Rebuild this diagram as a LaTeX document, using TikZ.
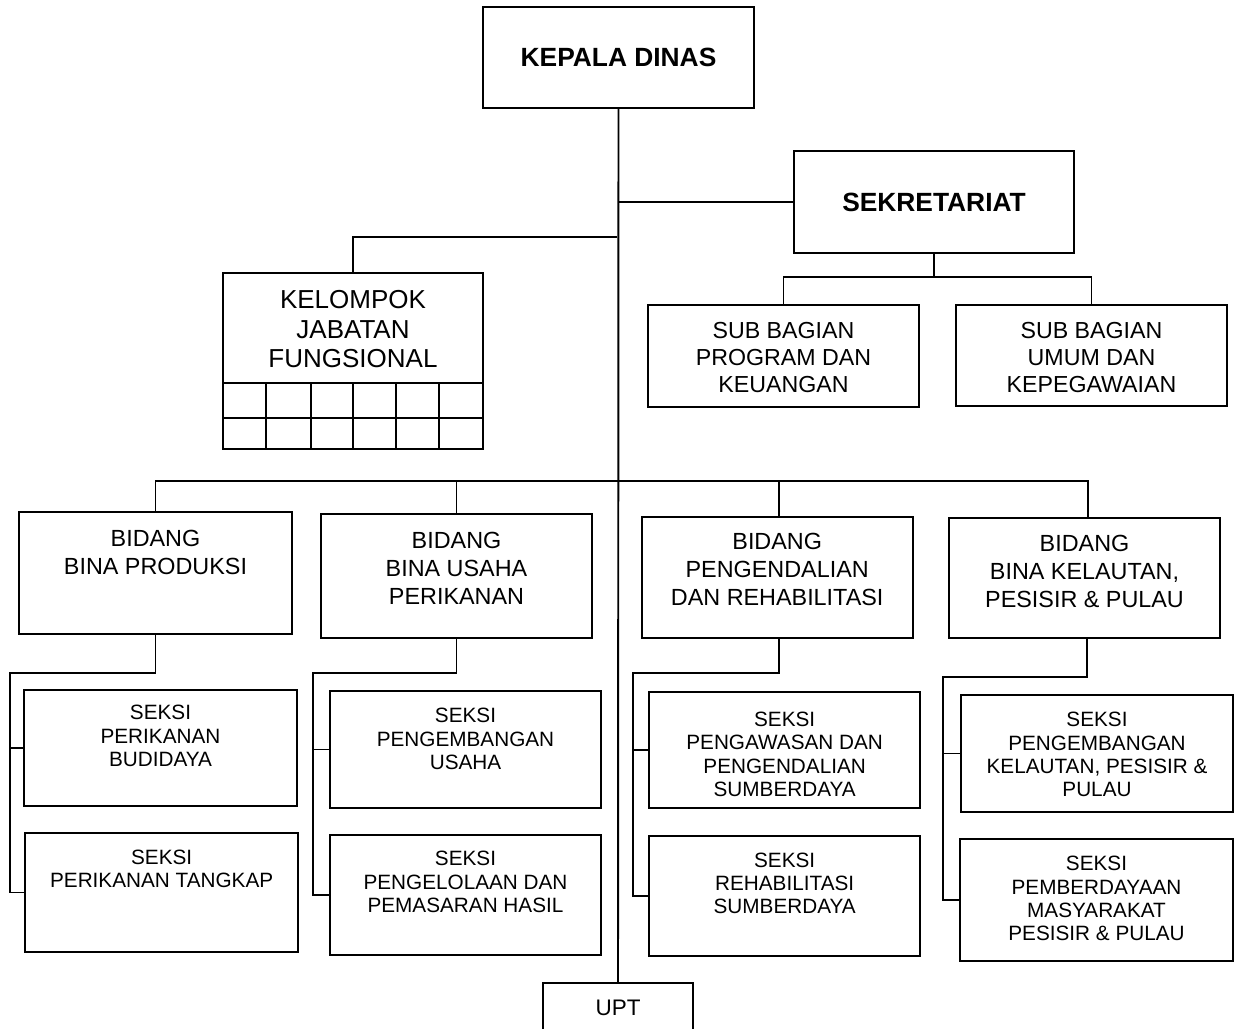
\documentclass[tikz,border=0pt]{standalone}
\usepackage{fontspec}
\setmainfont{Liberation Sans}
\begin{document}
\begin{tikzpicture}[x=0.02cm,y=-0.02cm,
  obx/.style={draw,line width=1.1pt,inner sep=0pt,outer sep=0pt},
  link/.style={line width=1.1pt},
  txt/.style={inner sep=0pt,anchor=north,align=center},
  fhead/.style={font=\bfseries\fontsize{15}{18}\selectfont},
  fbig/.style={font=\fontsize{14.8}{17}\selectfont},
  fsub/.style={font=\fontsize{13.2}{15.4}\selectfont},
  fbid/.style={font=\fontsize{13.3}{15.9}\selectfont},
  fsek/.style={font=\fontsize{11.8}{13.2}\selectfont},
  fupt/.style={font=\fontsize{12.8}{15}\selectfont}]
% box: name, x1, y1, x2, y2
\newcommand\obox[5]{\node[obx,minimum width={(#4-#2)*0.02cm},minimum height={(#5-#3)*0.02cm}] (#1) at ({(#2+#4)/2},{(#3+#5)/2}) {};}
% label: name, box, offset below the box top, style, text
\newcommand\olbl[5]{\node[txt,#4] (#1) at ([yshift={-(#3)*0.02cm}]#2.north) {#5};}

\clip (0,0) rectangle (1237,1028);

% top level
\obox{kd}{483}{7}{754}{108}
\olbl{tkd}{kd}{41}{fhead}{KEPALA DINAS}
\obox{sek}{794}{151}{1074}{253}
\olbl{tsek}{sek}{42}{fhead}{SEKRETARIAT}
\obox{sb1}{648}{305}{919}{407}
\olbl{tsb1}{sb1}{17}{fsub}{SUB BAGIAN\\PROGRAM DAN\\KEUANGAN}
\obox{sb2}{956}{305}{1227}{406}
\olbl{tsb2}{sb2}{17}{fsub}{SUB BAGIAN\\UMUM DAN\\KEPEGAWAIAN}

% functional group with its grid
\obox{kjf}{222.7}{272.7}{483.3}{449.3}
\olbl{tkjf}{kjf}{17}{fbig}{KELOMPOK\\JABATAN\\FUNGSIONAL}
\draw[link] (222.7,383.3) -- (483.3,383.3) (222.7,417.7) -- (483.3,417.7);
\foreach \gx in {266,310.7,352.7,396,438.7}
  \draw[link] (\gx,383.3) -- (\gx,449.3);

% fields
\obox{b1}{19.3}{512.3}{291.7}{634.3}
\olbl{tb1}{b1}{18}{fbid}{BIDANG\\BINA PRODUKSI}
\obox{b2}{321}{514}{592}{638}
\olbl{tb2}{b2}{18}{fbid}{BIDANG\\BINA USAHA\\PERIKANAN}
\obox{b3}{641.7}{516.7}{912.7}{638.3}
\olbl{tb3}{b3}{16.5}{fbid}{BIDANG\\PENGENDALIAN\\DAN REHABILITASI}
\obox{b4}{949}{518}{1220}{638}
\olbl{tb4}{b4}{17}{fbid}{BIDANG\\BINA KELAUTAN,\\PESISIR \& PULAU}

% sections
\obox{s11}{24.3}{690}{296.7}{805.7}
\olbl{ts11}{s11}{15}{fsek}{SEKSI\\PERIKANAN\\BUDIDAYA}
\obox{s12}{25.3}{833.3}{298}{951.7}
\olbl{ts12}{s12}{16}{fsek}{SEKSI\\PERIKANAN TANGKAP}
\obox{s21}{330}{691}{601}{808}
\olbl{ts21}{s21}{17}{fsek}{SEKSI\\PENGEMBANGAN\\USAHA}
\obox{s22}{330}{835}{601}{955}
\olbl{ts22}{s22}{16}{fsek}{SEKSI\\PENGELOLAAN DAN\\PEMASARAN HASIL}
\obox{s31}{649.3}{692.3}{920}{808.3}
\olbl{ts31}{s31}{19.5}{fsek}{SEKSI\\PENGAWASAN DAN\\PENGENDALIAN\\SUMBERDAYA}
\obox{s32}{649.3}{835.7}{920}{956}
\olbl{ts32}{s32}{17}{fsek}{SEKSI\\REHABILITASI\\SUMBERDAYA}
\obox{s41}{961}{695}{1233}{812}
\olbl{ts41}{s41}{17}{fsek}{SEKSI\\PENGEMBANGAN\\KELAUTAN, PESISIR \&\\PULAU}
\obox{s42}{960}{839}{1233}{961}
\olbl{ts42}{s42}{17}{fsek}{SEKSI\\PEMBERDAYAAN\\MASYARAKAT\\PESISIR \& PULAU}

% technical unit
\obox{upt}{543}{983}{693}{1045}
\olbl{tupt}{upt}{17}{fupt}{UPT}

% main spine
\draw[link] (kd.south) -- (upt.north);

% secretariat
\draw[link] (sek.west) -- (sek.west -| kd.south);
\coordinate (sbus) at (0,277);
\draw[link] (sek.south) -- (sek.south |- sbus);
\draw[link] (sb1.north) -- (sb1.north |- sbus) -- (sb2.north |- sbus) -- (sb2.north);

% functional group
\coordinate (kend) at (617,236.7);
\draw[link] (kjf.north) |- (kend);

% fields bus
\coordinate (bbus) at (0,481);
\draw[link] (b1.north) -- (b1.north |- bbus) -- ([xshift=3.5*0.02cm]b4.north |- bbus) -- ([xshift=3.5*0.02cm]b4.north);
\draw[link] (b2.north) -- (b2.north |- bbus);
\draw[link] ([xshift=1.5*0.02cm]b3.north) -- ([xshift=1.5*0.02cm]b3.north |- bbus);

% section brackets
\coordinate (c1) at (10,672.7);
\coordinate (c2) at (313,673);
\coordinate (c3) at (633,673);
\coordinate (c4) at (943.3,676.7);
\draw[link] (b1.south) |- (c1) |- (s12.west);
\draw[link] (s11.west) -- (s11.west -| c1);
\draw[link] (b2.south) |- (c2) |- (s22.west);
\draw[link] (s21.west) -- (s21.west -| c2);
\draw[link] ([xshift=1.5*0.02cm]b3.south) |- (c3) |- (s32.west);
\draw[link] (s31.west) -- (s31.west -| c3);
\draw[link] ([xshift=2.5*0.02cm]b4.south) |- (c4) |- (s42.west);
\draw[link] (s41.west) -- (s41.west -| c4);
\end{tikzpicture}
\end{document}
